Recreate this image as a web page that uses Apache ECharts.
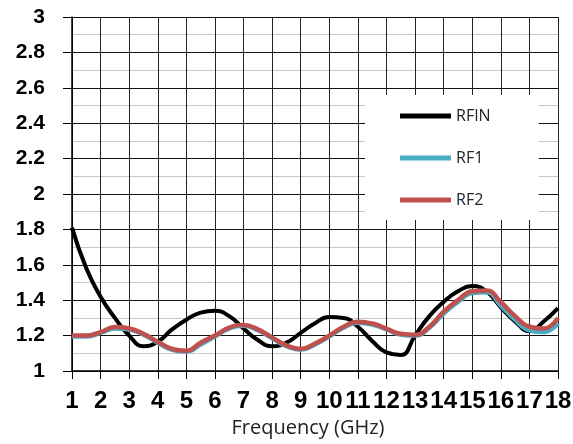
<!DOCTYPE html>
<html><head><meta charset="utf-8">
<script src="https://cdn.jsdelivr.net/npm/echarts@6/dist/echarts.min.js"></script>
<style>html,body{margin:0;padding:0;background:#fff}#c{width:573px;height:444px}</style>
</head><body><div id="c"></div>
<script>
const freq = [1,1.5,2,2.5,3,3.5,4,4.5,5,5.5,6,6.5,7,7.5,8,8.5,9,9.5,10,10.5,11,11.5,12,12.5,13,13.5,14,14.5,15,15.5,16,16.5,17,17.5,18];
const rfin = [1.81,1.58,1.42,1.30,1.20,1.14,1.165,1.235,1.29,1.33,1.34,1.31,1.24,1.175,1.14,1.16,1.215,1.27,1.305,1.30,1.25,1.17,1.105,1.09,1.20,1.31,1.39,1.45,1.48,1.45,1.36,1.28,1.225,1.28,1.355];
const rf1  = [1.195,1.195,1.215,1.24,1.235,1.205,1.16,1.12,1.11,1.15,1.195,1.24,1.255,1.23,1.185,1.14,1.12,1.15,1.195,1.245,1.272,1.263,1.235,1.205,1.20,1.245,1.325,1.39,1.44,1.445,1.37,1.29,1.23,1.22,1.27];
const rf2  = [1.20,1.20,1.22,1.248,1.24,1.21,1.165,1.125,1.115,1.16,1.20,1.245,1.26,1.235,1.19,1.145,1.125,1.155,1.20,1.25,1.278,1.268,1.24,1.21,1.205,1.25,1.335,1.40,1.45,1.455,1.39,1.31,1.25,1.24,1.30];
const seriesNames = ['RFIN','RF1','RF2'];
const colors = ['#000000','#4bacc6','#c0504d'];

const pair = a => freq.map((f,i)=>[f,a[i]]);
const chart = echarts.init(document.getElementById('c'));
chart.setOption({
  animation:false,
  grid:{left:72,right:15,top:17,bottom:73,containLabel:false,outerBoundsMode:'none'},
  legend:{
    data:seriesNames, orient:'vertical', left:365, top:95,
    backgroundColor:'#fff', padding:[13,48,12,35], itemGap:26,
    itemWidth:51, itemHeight:5, icon:'rect',
    textStyle:{fontFamily:'Open Sans',fontSize:16,color:'#222'}
  },
  xAxis:{
    type:'value', min:1, max:18, interval:1,
    name:'Frequency (GHz)', nameLocation:'middle', nameGap:45,
    nameTextStyle:{fontFamily:'Open Sans',fontSize:20,color:'#222',padding:[0,14,0,0]},
    axisLine:{show:true,onZero:false,lineStyle:{color:'#000',width:1.5}},
    axisTick:{show:true,length:8,lineStyle:{color:'#000'}},
    axisLabel:{margin:18,fontFamily:'Liberation Sans',fontWeight:'bold',fontSize:24,color:'#000'},
    splitLine:{show:true,lineStyle:{color:'#222',width:1}}
  },
  yAxis:{
    type:'value', min:1, max:3, interval:0.2,
    axisLine:{show:true,lineStyle:{color:'#000',width:1.5}},
    axisTick:{show:true,length:9,lineStyle:{color:'#000'}},
    axisLabel:{margin:27,fontFamily:'Liberation Sans',fontWeight:'bold',fontSize:21,color:'#000'},
    splitLine:{show:true,lineStyle:{color:'#111',width:1}},
    minorTick:{show:false,splitNumber:2},
    minorSplitLine:{show:true,lineStyle:{color:'#c8c8c8',width:1}}
  },
  series:[
    {name:'RFIN',type:'line',data:pair(rfin),smooth:0.5,showSymbol:false,lineStyle:{color:colors[0],width:4},itemStyle:{color:colors[0]},z:3},
    {name:'RF1',type:'line',data:pair(rf1),smooth:0.5,showSymbol:false,lineStyle:{color:colors[1],width:4.5},itemStyle:{color:colors[1]},z:4},
    {name:'RF2',type:'line',data:pair(rf2),smooth:0.5,showSymbol:false,lineStyle:{color:colors[2],width:4.5},itemStyle:{color:colors[2]},z:5}
  ]
});
</script></body></html>
